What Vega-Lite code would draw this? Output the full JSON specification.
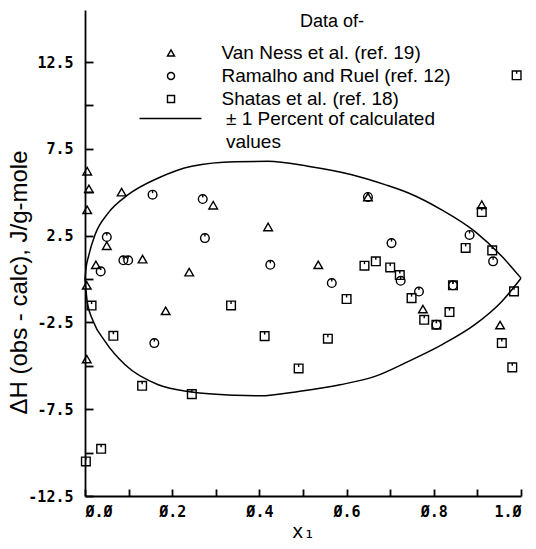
{
  "$schema": "https://vega.github.io/schema/vega-lite/v6.json",
  "width": 436,
  "height": 486,
  "autosize": {"type": "none"},
  "padding": {"left": 85, "top": 10, "right": 15, "bottom": 53},
  "background": "white",
  "title": {
    "text": "Data of-",
    "anchor": "start",
    "frame": "group",
    "offset": 0,
    "dx": 215,
    "dy": 30,
    "baseline": "middle",
    "font": "Liberation Sans",
    "fontSize": 18,
    "fontWeight": "normal",
    "color": "black"
  },
  "config": {
    "view": {"stroke": null},
    "axis": {
      "grid": false,
      "domainColor": "black",
      "domainWidth": 1.8,
      "tickColor": "black",
      "tickWidth": 1.8,
      "labelColor": "black",
      "labelFont": "DejaVu Sans Mono",
      "labelFontWeight": "bold",
      "labelFontSize": 15,
      "titleColor": "black",
      "titleFontWeight": "normal"
    }
  },
  "datasets": {
    "obs": [
      {"series": "Van Ness et al. (ref. 19)", "x": 0.005, "y": 6.21},
      {"series": "Van Ness et al. (ref. 19)", "x": 0.009, "y": 5.20},
      {"series": "Van Ness et al. (ref. 19)", "x": 0.005, "y": 3.99},
      {"series": "Van Ness et al. (ref. 19)", "x": 0.084, "y": 5.01},
      {"series": "Van Ness et al. (ref. 19)", "x": 0.294, "y": 4.25},
      {"series": "Van Ness et al. (ref. 19)", "x": 0.050, "y": 1.92},
      {"series": "Van Ness et al. (ref. 19)", "x": 0.132, "y": 1.15},
      {"series": "Van Ness et al. (ref. 19)", "x": 0.025, "y": 0.82},
      {"series": "Van Ness et al. (ref. 19)", "x": 0.239, "y": 0.40},
      {"series": "Van Ness et al. (ref. 19)", "x": 0.004, "y": -0.36},
      {"series": "Van Ness et al. (ref. 19)", "x": 0.185, "y": -1.83},
      {"series": "Van Ness et al. (ref. 19)", "x": 0.004, "y": -4.61},
      {"series": "Van Ness et al. (ref. 19)", "x": 0.420, "y": 3.00},
      {"series": "Van Ness et al. (ref. 19)", "x": 0.535, "y": 0.82},
      {"series": "Van Ness et al. (ref. 19)", "x": 0.649, "y": 4.73},
      {"series": "Van Ness et al. (ref. 19)", "x": 0.910, "y": 4.28},
      {"series": "Van Ness et al. (ref. 19)", "x": 0.775, "y": -1.73},
      {"series": "Van Ness et al. (ref. 19)", "x": 0.952, "y": -2.65},
      {"series": "Ramalho and Ruel (ref. 12)", "x": 0.155, "y": 4.86},
      {"series": "Ramalho and Ruel (ref. 12)", "x": 0.270, "y": 4.61},
      {"series": "Ramalho and Ruel (ref. 12)", "x": 0.050, "y": 2.42},
      {"series": "Ramalho and Ruel (ref. 12)", "x": 0.275, "y": 2.36},
      {"series": "Ramalho and Ruel (ref. 12)", "x": 0.088, "y": 1.08},
      {"series": "Ramalho and Ruel (ref. 12)", "x": 0.099, "y": 1.08},
      {"series": "Ramalho and Ruel (ref. 12)", "x": 0.036, "y": 0.44},
      {"series": "Ramalho and Ruel (ref. 12)", "x": 0.159, "y": -3.69},
      {"series": "Ramalho and Ruel (ref. 12)", "x": 0.649, "y": 4.73},
      {"series": "Ramalho and Ruel (ref. 12)", "x": 0.425, "y": 0.82},
      {"series": "Ramalho and Ruel (ref. 12)", "x": 0.566, "y": -0.23},
      {"series": "Ramalho and Ruel (ref. 12)", "x": 0.703, "y": 2.07},
      {"series": "Ramalho and Ruel (ref. 12)", "x": 0.724, "y": -0.10},
      {"series": "Ramalho and Ruel (ref. 12)", "x": 0.766, "y": -0.72},
      {"series": "Ramalho and Ruel (ref. 12)", "x": 0.882, "y": 2.54},
      {"series": "Ramalho and Ruel (ref. 12)", "x": 0.936, "y": 1.02},
      {"series": "Ramalho and Ruel (ref. 12)", "x": 0.844, "y": -0.36},
      {"series": "Ramalho and Ruel (ref. 12)", "x": 0.806, "y": -2.63},
      {"series": "Shatas et al. (ref. 18)", "x": 0.015, "y": -1.53},
      {"series": "Shatas et al. (ref. 18)", "x": 0.335, "y": -1.52},
      {"series": "Shatas et al. (ref. 18)", "x": 0.065, "y": -3.27},
      {"series": "Shatas et al. (ref. 18)", "x": 0.131, "y": -6.15},
      {"series": "Shatas et al. (ref. 18)", "x": 0.245, "y": -6.63},
      {"series": "Shatas et al. (ref. 18)", "x": 0.037, "y": -9.78},
      {"series": "Shatas et al. (ref. 18)", "x": 0.002, "y": -10.51},
      {"series": "Shatas et al. (ref. 18)", "x": 0.641, "y": 0.77},
      {"series": "Shatas et al. (ref. 18)", "x": 0.667, "y": 1.02},
      {"series": "Shatas et al. (ref. 18)", "x": 0.600, "y": -1.15},
      {"series": "Shatas et al. (ref. 18)", "x": 0.412, "y": -3.29},
      {"series": "Shatas et al. (ref. 18)", "x": 0.557, "y": -3.44},
      {"series": "Shatas et al. (ref. 18)", "x": 0.490, "y": -5.15},
      {"series": "Shatas et al. (ref. 18)", "x": 0.700, "y": 0.67},
      {"series": "Shatas et al. (ref. 18)", "x": 0.722, "y": 0.23},
      {"series": "Shatas et al. (ref. 18)", "x": 0.749, "y": -1.10},
      {"series": "Shatas et al. (ref. 18)", "x": 0.778, "y": -2.35},
      {"series": "Shatas et al. (ref. 18)", "x": 0.806, "y": -2.63},
      {"series": "Shatas et al. (ref. 18)", "x": 0.836, "y": -1.90},
      {"series": "Shatas et al. (ref. 18)", "x": 0.844, "y": -0.36},
      {"series": "Shatas et al. (ref. 18)", "x": 0.873, "y": 1.79},
      {"series": "Shatas et al. (ref. 18)", "x": 0.910, "y": 3.86},
      {"series": "Shatas et al. (ref. 18)", "x": 0.934, "y": 1.65},
      {"series": "Shatas et al. (ref. 18)", "x": 0.984, "y": -0.71},
      {"series": "Shatas et al. (ref. 18)", "x": 0.956, "y": -3.69},
      {"series": "Shatas et al. (ref. 18)", "x": 0.980, "y": -5.09},
      {"series": "Shatas et al. (ref. 18)", "x": 0.990, "y": 11.74}
    ],
    "envelope": [
      {"band": "± 1 Percent of calculated", "side": "upper", "x": 0.0, "y": 0.0},
      {"band": "± 1 Percent of calculated", "side": "upper", "x": 0.002, "y": 0.55},
      {"band": "± 1 Percent of calculated", "side": "upper", "x": 0.008, "y": 1.3},
      {"band": "± 1 Percent of calculated", "side": "upper", "x": 0.023, "y": 2.55},
      {"band": "± 1 Percent of calculated", "side": "upper", "x": 0.053, "y": 3.80},
      {"band": "± 1 Percent of calculated", "side": "upper", "x": 0.099, "y": 4.86},
      {"band": "± 1 Percent of calculated", "side": "upper", "x": 0.168, "y": 5.82},
      {"band": "± 1 Percent of calculated", "side": "upper", "x": 0.245, "y": 6.50},
      {"band": "± 1 Percent of calculated", "side": "upper", "x": 0.344, "y": 6.76},
      {"band": "± 1 Percent of calculated", "side": "upper", "x": 0.420, "y": 6.78},
      {"band": "± 1 Percent of calculated", "side": "upper", "x": 0.511, "y": 6.50},
      {"band": "± 1 Percent of calculated", "side": "upper", "x": 0.612, "y": 6.01},
      {"band": "± 1 Percent of calculated", "side": "upper", "x": 0.688, "y": 5.44},
      {"band": "± 1 Percent of calculated", "side": "upper", "x": 0.742, "y": 4.96},
      {"band": "± 1 Percent of calculated", "side": "upper", "x": 0.818, "y": 3.99},
      {"band": "± 1 Percent of calculated", "side": "upper", "x": 0.894, "y": 2.75},
      {"band": "± 1 Percent of calculated", "side": "upper", "x": 0.956, "y": 1.31},
      {"band": "± 1 Percent of calculated", "side": "upper", "x": 1.0, "y": 0.05},
      {"band": "± 1 Percent of calculated", "side": "lower", "x": 0.0, "y": 0.0},
      {"band": "± 1 Percent of calculated", "side": "lower", "x": 0.002, "y": -0.55},
      {"band": "± 1 Percent of calculated", "side": "lower", "x": 0.005, "y": -1.29},
      {"band": "± 1 Percent of calculated", "side": "lower", "x": 0.019, "y": -2.44},
      {"band": "± 1 Percent of calculated", "side": "lower", "x": 0.046, "y": -3.59},
      {"band": "± 1 Percent of calculated", "side": "lower", "x": 0.092, "y": -4.94},
      {"band": "± 1 Percent of calculated", "side": "lower", "x": 0.168, "y": -6.09},
      {"band": "± 1 Percent of calculated", "side": "lower", "x": 0.245, "y": -6.51},
      {"band": "± 1 Percent of calculated", "side": "lower", "x": 0.344, "y": -6.70},
      {"band": "± 1 Percent of calculated", "side": "lower", "x": 0.401, "y": -6.73},
      {"band": "± 1 Percent of calculated", "side": "lower", "x": 0.493, "y": -6.46},
      {"band": "± 1 Percent of calculated", "side": "lower", "x": 0.585, "y": -6.09},
      {"band": "± 1 Percent of calculated", "side": "lower", "x": 0.665, "y": -5.61},
      {"band": "± 1 Percent of calculated", "side": "lower", "x": 0.742, "y": -4.74},
      {"band": "± 1 Percent of calculated", "side": "lower", "x": 0.818, "y": -3.79},
      {"band": "± 1 Percent of calculated", "side": "lower", "x": 0.894, "y": -2.63},
      {"band": "± 1 Percent of calculated", "side": "lower", "x": 0.956, "y": -1.29},
      {"band": "± 1 Percent of calculated", "side": "lower", "x": 1.0, "y": 0.05}
    ]
  },
  "encoding": {
    "x": {
      "field": "x",
      "type": "quantitative",
      "scale": {"domain": [0, 1], "nice": false, "zero": false},
      "axis": {
        "values": [0, 0.1, 0.2, 0.3, 0.4, 0.5, 0.6, 0.7, 0.8, 0.9, 1.0],
        "tickSize": -7,
        "labelPadding": 15,
        "labelExpr": "round(datum.value * 10) % 2 == 0 ? replace(replace(format(datum.value, '.1f'), '0', 'Ø'), '0', 'Ø') : ''",
        "title": "x₁",
        "titleFont": "DejaVu Sans Mono",
        "titleFontSize": 19,
        "titlePadding": 3
      }
    },
    "y": {
      "field": "y",
      "type": "quantitative",
      "scale": {"domain": [-12.5, 15.5], "nice": false, "zero": false},
      "axis": {
        "values": [-12.5, -10, -7.5, -5, -2.5, 0, 2.5, 5, 7.5, 10, 12.5],
        "tickSize": -8,
        "labelPadding": 20,
        "labelExpr": "indexof([12.5, 7.5, 2.5, -2.5, -7.5, -12.5], datum.value) >= 0 ? (datum.value < 0 ? '-' : '') + format(abs(datum.value), '.1f') : ''",
        "title": "ΔH (obs - calc), J/g-mole",
        "titleFont": "Liberation Sans",
        "titleFontSize": 24,
        "titleX": -66,
        "titleY": 272,
        "titleAngle": -90,
        "titleAlign": "center",
        "titleBaseline": "middle"
      }
    }
  },
  "layer": [
    {
      "data": {"name": "envelope"},
      "mark": {"type": "line", "strokeWidth": 1.5, "interpolate": "monotone"},
      "encoding": {
        "detail": {"field": "side", "type": "nominal"},
        "stroke": {
          "field": "band",
          "type": "nominal",
          "scale": {"domain": ["± 1 Percent of calculated", "values"], "range": ["black", "transparent"]},
          "legend": {
            "orient": "none",
            "legendX": 76,
            "legendY": 99,
            "title": null,
            "padding": 0,
            "symbolType": "M-4,0H4",
            "symbolSize": 240,
            "symbolStrokeWidth": 1.5,
            "labelOffset": 46,
            "rowPadding": 3,
            "labelColor": "black",
            "labelFont": "Liberation Sans",
            "labelFontSize": 19,
            "labelLimit": 400,
            "labelExpr": "datum.label == 'values' ? '\u00a0\u00a0\u00a0values' : datum.label"
          }
        }
      }
    },
    {
      "data": {"name": "obs"},
      "mark": {"type": "point", "filled": false, "color": "black", "strokeWidth": 1.4, "size": 75, "opacity": 1},
      "encoding": {
        "shape": {
          "field": "series",
          "type": "nominal",
          "scale": {
            "domain": ["Van Ness et al. (ref. 19)", "Ramalho and Ruel (ref. 12)", "Shatas et al. (ref. 18)"],
            "range": ["triangle-up", "circle", "square"]
          },
          "legend": {
            "orient": "none",
            "legendX": 76.5,
            "legendY": 33.5,
            "title": null,
            "padding": 0,
            "symbolSize": 50,
            "symbolStrokeWidth": 1.4,
            "symbolStrokeColor": "black",
            "symbolFillColor": "transparent",
            "labelOffset": 41,
            "rowPadding": 3,
            "labelColor": "black",
            "labelFont": "Liberation Sans",
            "labelFontSize": 19,
            "labelLimit": 400
          }
        }
      }
    },
    {
      "data": {"name": "obs"},
      "transform": [{"filter": "datum.series != 'Van Ness et al. (ref. 19)'"}],
      "mark": {"type": "point", "shape": "M0,-1L0,-0.35", "filled": false, "color": "black", "strokeWidth": 1.4, "size": 75, "opacity": 1}
    }
  ]
}
